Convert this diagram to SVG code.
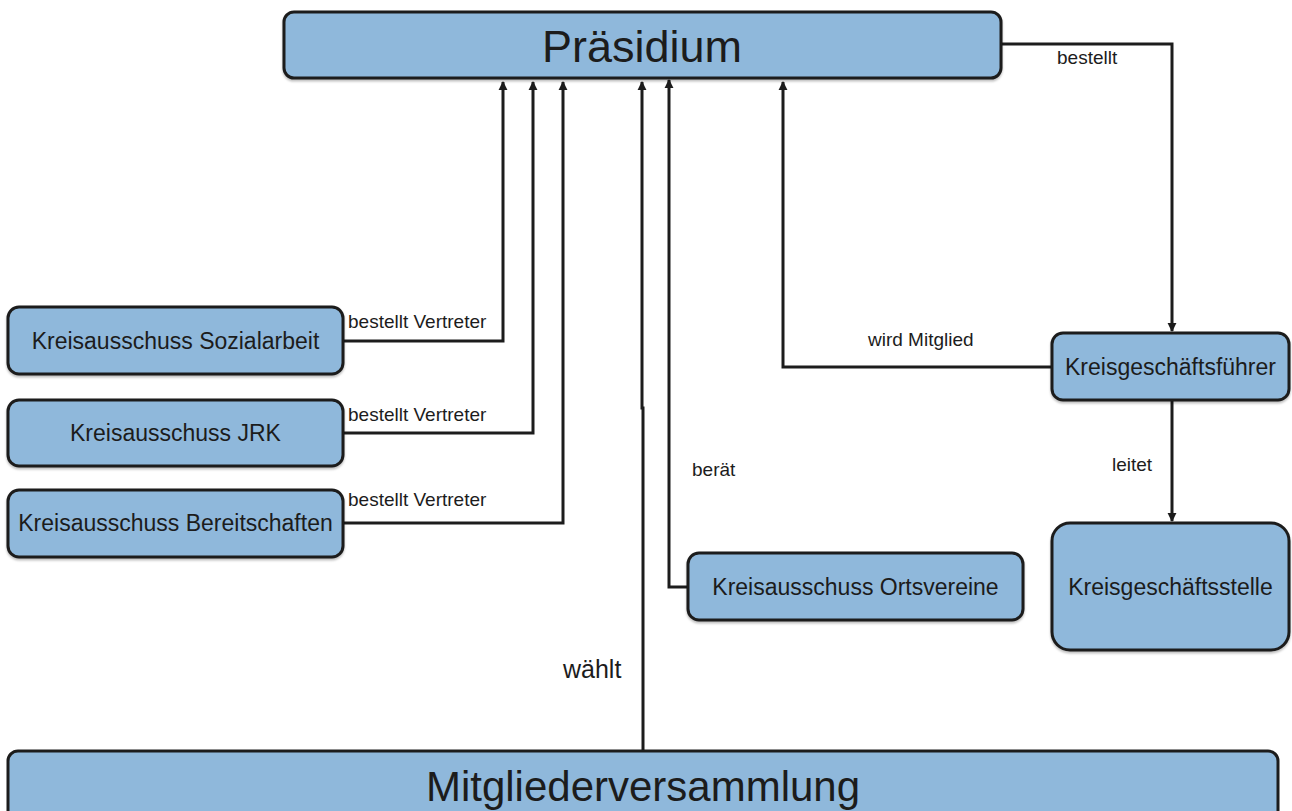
<svg xmlns="http://www.w3.org/2000/svg" width="1292" height="811" viewBox="0 0 1292 811">
<defs>
<style>
.box{fill:#8fb8db;stroke:#1c1c1c;stroke-width:3}
.t{font-family:"Liberation Sans",Arial,sans-serif;fill:#1c1c1c;text-anchor:middle}
.nt{font-size:23px}
.big{font-size:45px}
.lbl{font-family:"Liberation Sans",Arial,sans-serif;fill:#1c1c1c;font-size:19px}
.c{fill:none;stroke:#1c1c1c;stroke-width:3}
</style>
<marker id="arr" viewBox="0 0 10 10" refX="9" refY="5" markerWidth="9" markerHeight="10" markerUnits="userSpaceOnUse" orient="auto">
<path d="M0,0 L10,5 L0,10 z" fill="#1c1c1c"/>
</marker>
<filter id="sh" x="-5%" y="-5%" width="110%" height="120%">
<feDropShadow dx="0" dy="2" stdDeviation="1" flood-color="#000" flood-opacity="0.25"/>
</filter>
</defs>
<rect width="1292" height="811" fill="#ffffff"/>

<g id="connectors">
<path class="c" d="M343,341 H503 V82" marker-end="url(#arr)"/>
<path class="c" d="M343,433 H533 V82" marker-end="url(#arr)"/>
<path class="c" d="M343,523 H563 V82" marker-end="url(#arr)"/>
<path class="c" d="M643,750 V408 H642 V82" marker-end="url(#arr)"/>
<path class="c" d="M688,587 H669 V80" marker-end="url(#arr)"/>
<path class="c" d="M1052,367 H783 V82" marker-end="url(#arr)"/>
<path class="c" d="M1001,44 H1172 V331" marker-end="url(#arr)"/>
<path class="c" d="M1172,400 V521" marker-end="url(#arr)"/>
<text class="lbl" x="348" y="328">bestellt Vertreter</text>
<text class="lbl" x="348" y="421">bestellt Vertreter</text>
<text class="lbl" x="348" y="506">bestellt Vertreter</text>
<text class="lbl" x="1057" y="64">bestellt</text>
<text class="lbl" x="868" y="346">wird Mitglied</text>
<text class="lbl" x="692" y="476">berät</text>
<text class="lbl" x="1112" y="471">leitet</text>
<text class="lbl" x="563" y="678" style="font-size:25px">wählt</text>
</g>

<g id="praesidium">
<rect class="box" x="284" y="12" width="717" height="66" rx="10" filter="url(#sh)"/>
<text class="t big" x="642" y="62">Präsidium</text>
</g>

<g id="ka-sozialarbeit">
<rect class="box" x="8" y="307" width="335" height="67" rx="11" filter="url(#sh)"/>
<text class="t nt" x="175.5" y="349">Kreisausschuss Sozialarbeit</text>
</g>

<g id="ka-jrk">
<rect class="box" x="8" y="400" width="335" height="66" rx="11" filter="url(#sh)"/>
<text class="t nt" x="175.5" y="441">Kreisausschuss JRK</text>
</g>

<g id="ka-bereitschaften">
<rect class="box" x="8" y="490" width="335" height="67" rx="11" filter="url(#sh)"/>
<text class="t nt" x="175.5" y="531">Kreisausschuss Bereitschaften</text>
</g>

<g id="ka-ortsvereine">
<rect class="box" x="688" y="553" width="335" height="67" rx="11" filter="url(#sh)"/>
<text class="t nt" x="855.5" y="595">Kreisausschuss Ortsvereine</text>
</g>

<g id="kreisgeschaeftsfuehrer">
<rect class="box" x="1052" y="333" width="237" height="67" rx="11" filter="url(#sh)"/>
<text class="t nt" x="1170.5" y="375">Kreisgeschäftsführer</text>
</g>

<g id="kreisgeschaeftsstelle">
<rect class="box" x="1052" y="523" width="237" height="127" rx="18" filter="url(#sh)"/>
<text class="t nt" x="1170.5" y="595">Kreisgeschäftsstelle</text>
</g>

<g id="mitgliederversammlung">
<rect class="box" x="8" y="751" width="1270" height="80" rx="10"/>
<text class="t" x="643" y="801" style="font-size:42px">Mitgliederversammlung</text>
</g>
</svg>
